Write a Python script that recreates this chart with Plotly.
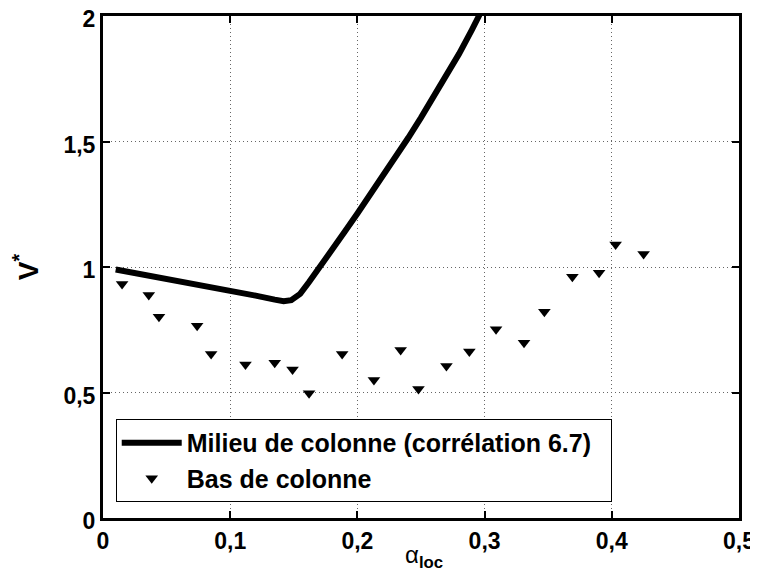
import plotly.graph_objects as go

# continuous curve: middle of column (correlation 6.7)
curve_alpha = [0.010, 0.030, 0.050, 0.075, 0.100, 0.120, 0.135, 0.142, 0.148, 0.155,
               0.162, 0.170, 0.180, 0.190, 0.200, 0.210, 0.220, 0.230, 0.240, 0.250,
               0.260, 0.270, 0.280, 0.290, 0.300]
curve_v = [0.990, 0.972, 0.953, 0.930, 0.905, 0.886, 0.870, 0.864, 0.868, 0.893,
           0.940, 1.000, 1.068, 1.140, 1.213, 1.287, 1.362, 1.438, 1.515, 1.595,
           1.677, 1.760, 1.850, 1.945, 2.045]

# measured points: bottom of column
pts_alpha = [0.015, 0.036, 0.044, 0.074, 0.085, 0.112, 0.135, 0.149, 0.162, 0.188,
             0.213, 0.234, 0.248, 0.270, 0.288, 0.309, 0.331, 0.347, 0.369, 0.390,
             0.403, 0.425]
pts_v = [0.932, 0.888, 0.802, 0.766, 0.653, 0.612, 0.619, 0.592, 0.497, 0.653,
         0.550, 0.669, 0.514, 0.606, 0.663, 0.752, 0.698, 0.822, 0.961, 0.977,
         1.090, 1.052]

xticks = [0, 0.1, 0.2, 0.3, 0.4, 0.5]
xtick_text = ['0', '0,1', '0,2', '0,3', '0,4', '0,5']
yticks = [0, 0.5, 1, 1.5, 2]
ytick_text = ['0', '0,5', '1', '1,5', '2']

FONT = 'Liberation Sans, Arial, sans-serif'


def bold(labels):
    return ['<b>%s</b>' % s for s in labels]


fig = go.Figure()
fig.add_trace(go.Scatter(x=curve_alpha, y=curve_v, mode='lines',
                         name='<b>Milieu de colonne (corrélation 6.7)</b>&nbsp;&nbsp;',
                         line=dict(color='black', width=6)))
fig.add_trace(go.Scatter(x=pts_alpha, y=pts_v, mode='markers',
                         name='<b>Bas de colonne</b>',
                         marker=dict(symbol='triangle-down', size=11, color='black')))

axis_common = dict(showline=True, linecolor='black', linewidth=3, mirror='ticks',
                   ticks='inside', ticklen=7, tickwidth=1.5, tickcolor='black',
                   showgrid=True, gridcolor='#666666', gridwidth=1, griddash='1px,3px',
                   zeroline=False, automargin=False, ticklabeloverflow='allow',
                   tickfont=dict(family=FONT, size=23, color='black'))

fig.update_xaxes(range=[0, 0.5], tickvals=xticks, ticktext=bold(xtick_text), **axis_common)
fig.update_yaxes(range=[0, 2], tickvals=yticks, ticktext=bold(ytick_text),
                 ticklabelshift=3,
                 title=dict(text='<b>V<sup>*</sup></b>', standoff=23,
                            font=dict(family=FONT, size=28, color='black')),
                 **axis_common)

# x axis title placed just under the tick labels
fig.add_annotation(text='α<sub><b>loc</b></sub>', xref='paper', yref='paper',
                   x=0.505, y=0, xanchor='center', yanchor='top', yshift=-21,
                   showarrow=False, font=dict(family=FONT, size=24, color='black'))

# page body has an 8px margin, so the figure is drawn 8px smaller and offset
fig.update_layout(
    width=750, height=570,
    margin=dict(l=95, r=19, t=8, b=60),
    plot_bgcolor='white', paper_bgcolor='white',
    legend=dict(x=0.02, y=0.032, xanchor='left', yanchor='bottom',
                bgcolor='white', bordercolor='black', borderwidth=1,
                font=dict(family=FONT, size=25, color='black'),
                tracegroupgap=0, itemwidth=60),
)

fig.write_html("out.html")
